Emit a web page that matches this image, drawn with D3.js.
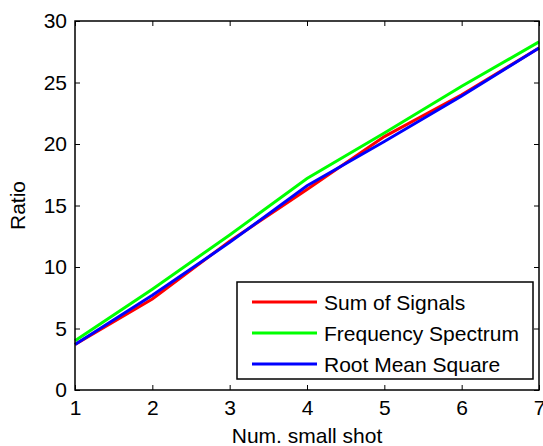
<!DOCTYPE html>
<html>
<head>
<meta charset="utf-8">
<script src="https://cdn.jsdelivr.net/npm/d3@7"></script>
<style>
  body { margin: 0; background: #fff; }
  text { font-family: "Liberation Sans", Arial, sans-serif; fill: #000; }
</style>
</head>
<body>
<svg id="chart" width="543" height="446"></svg>
<script>
const shots = [1, 2, 3, 4, 5, 6, 7];
const sumOfSignals = [3.7, 7.4, 12.1, 16.3, 20.6, 24.0, 27.8];
const freqSpectrum = [4.0, 8.2, 12.6, 17.2, 20.9, 24.7, 28.3];
const rootMeanSquare = [3.7, 7.7, 12.0, 16.6, 20.2, 23.9, 27.8];
const yTicks = [0, 5, 10, 15, 20, 25, 30];
const seriesNames = ["Sum of Signals", "Frequency Spectrum", "Root Mean Square"];
const seriesColors = ["#ff0000", "#00ff00", "#0000ff"];

const series = [sumOfSignals, freqSpectrum, rootMeanSquare];

const svg = d3.select("#chart");
const plotL = 75, plotR = 539, plotT = 21, plotB = 390;

const x = d3.scaleLinear().domain([1, 7]).range([plotL, plotR]);
const y = d3.scaleLinear().domain([0, 30]).range([plotB, plotT]);

// lines
const line = d3.line()
  .x((d, i) => x(shots[i]))
  .y(d => y(d));

svg.selectAll(".series")
  .data(series)
  .enter().append("path")
  .attr("class", "series")
  .attr("d", line)
  .attr("fill", "none")
  .attr("stroke", (d, i) => seriesColors[i])
  .attr("stroke-width", 3);

// axes, MATLAB style: inward ticks on all four sides
const tk = 5;
const axB = d3.axisBottom(x).tickValues(shots).tickSize(-tk).tickPadding(10).tickFormat(d3.format("d"));
const axT = d3.axisTop(x).tickValues(shots).tickSize(-tk).tickFormat("");
const axL = d3.axisLeft(y).tickValues(yTicks).tickSize(-tk).tickPadding(8);
const axR = d3.axisRight(y).tickValues(yTicks).tickSize(-tk).tickFormat("");

function styleAxis(g) {
  g.select(".domain").remove();
  g.selectAll("line").attr("stroke", "#000");
  g.selectAll("text").style("font-size", "21px").attr("fill", "#000");
}

svg.append("g").attr("transform", `translate(0,${plotB})`).call(axB).call(styleAxis);
svg.append("g").attr("transform", `translate(0,${plotT})`).call(axT).call(styleAxis);
svg.append("g").attr("transform", `translate(${plotL},0)`).call(axL).call(styleAxis);
svg.append("g").attr("transform", `translate(${plotR},0)`).call(axR).call(styleAxis);

svg.append("rect")
  .attr("x", plotL).attr("y", plotT)
  .attr("width", plotR - plotL).attr("height", plotB - plotT)
  .attr("fill", "none").attr("stroke", "#000").attr("stroke-width", 1.5);

// axis labels
svg.append("text")
  .attr("x", (plotL + plotR) / 2).attr("y", 443)
  .attr("text-anchor", "middle")
  .style("font-size", "21px")
  .text("Num. small shot");

svg.append("text")
  .attr("transform", `translate(25,${(plotT + plotB) / 2}) rotate(-90)`)
  .attr("text-anchor", "middle")
  .style("font-size", "21px")
  .text("Ratio");

// legend
const lg = svg.append("g").attr("transform", "translate(237,282)");
lg.append("rect")
  .attr("width", 296).attr("height", 97)
  .attr("fill", "#fff").attr("stroke", "#000").attr("stroke-width", 1.5);

const item = lg.selectAll(".item")
  .data(seriesNames)
  .enter().append("g")
  .attr("class", "item")
  .attr("transform", (d, i) => `translate(0,${20 + i * 31})`);

item.append("line")
  .attr("x1", 15).attr("x2", 80)
  .attr("stroke", (d, i) => seriesColors[i])
  .attr("stroke-width", 3);

item.append("text")
  .attr("x", 87).attr("dy", "0.36em")
  .style("font-size", "21px")
  .text(d => d);
</script>
</body>
</html>
